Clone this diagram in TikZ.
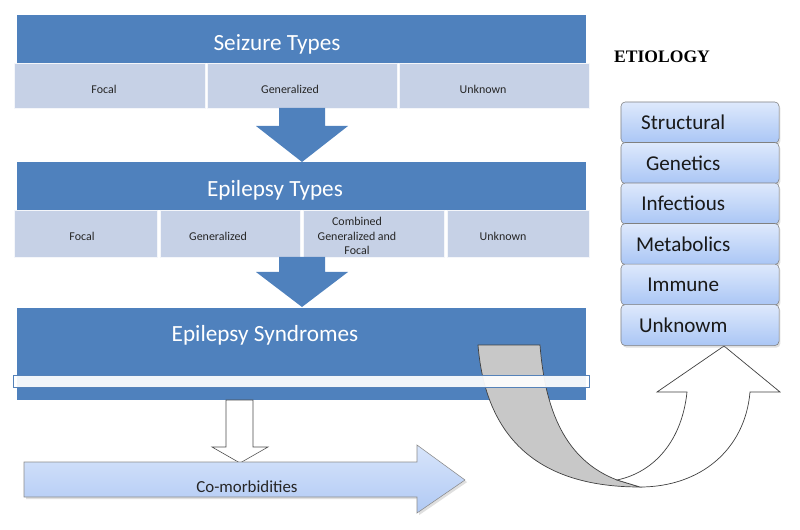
\documentclass[tikz,border=0pt]{standalone}
\usepackage{fontspec}
\setmainfont{Carlito}
\newfontfamily\etiofont{Liberation Serif}
\usetikzlibrary{positioning,shadows}
\definecolor{hdrblue}{RGB}{79,129,189}
\definecolor{cellblue}{RGB}{198,209,230}
\definecolor{boxtop}{RGB}{222,233,252}
\definecolor{boxbot}{RGB}{170,198,245}
\definecolor{comtop}{RGB}{216,229,251}
\definecolor{combot}{RGB}{176,201,244}
\definecolor{bandgray}{RGB}{200,200,200}
\definecolor{barline}{RGB}{85,130,185}
\tikzset{%
  header/.style    = {fill=hdrblue, draw=none},
  hdrtext/.style   = {text=white, font=\fontsize{16.5}{19}\selectfont, inner sep=0pt},
  cell/.style      = {fill=cellblue, draw=white!80!cellblue, line width=0.5pt},
  celltext/.style  = {font=\fontsize{8.5}{10.5}\selectfont, text=black!85, align=center, inner sep=0pt},
  bluearrow/.style = {fill=hdrblue, draw=none},
  etiobox/.style   = {draw=black!50, rounded corners=3pt, top color=boxtop, bottom color=boxbot,
    minimum width=3.95cm, minimum height=1.025cm,
    drop shadow={opacity=0.25, shadow xshift=1pt, shadow yshift=-1.5pt}},
  etiotext/.style  = {font=\fontsize{15}{18}\selectfont, text=black!90, xshift=-0.42cm},
  comorb/.style    = {draw=black!45, top color=comtop, bottom color=combot,
    drop shadow={opacity=0.25, shadow xshift=1.5pt, shadow yshift=-1.5pt}},
  curvearrow/.style = {draw=black!75, line width=0.5pt}
}

\begin{document}
\begin{tikzpicture}[x=0.025cm, y=-0.025cm, node distance=1.0125cm]
  \useasboundingbox (0,0) rectangle (800,530);

  % seizure types
  \fill[header] (17,15) rectangle (586,63);
  \draw node at (277,44) [hdrtext] (seizure) {Seizure Types};
  \foreach \a/\b in {14/205, 207/397, 399/589}
    \draw[cell] (\a,63) rectangle (\b,108);
  \draw node at (104,89) [celltext] (sfocal) {Focal};
  \draw node at (290,89) [celltext] (sgen) {Generalized};
  \draw node at (483,89) [celltext] (sunk) {Unknown};

  \fill[bluearrow] (279,108) -- (325,108) -- (325,126) -- (348,126) -- (302,162)
    -- (256,126) -- (279,126) -- cycle;

  % epilepsy types
  \fill[header] (17,162) rectangle (586,210);
  \draw node at (275,190) [hdrtext] (eptypes) {Epilepsy Types};
  \foreach \a/\b in {14/157, 160/300, 303/444, 447/589}
    \draw[cell] (\a,210) rectangle (\b,257);
  \draw node at (82,236) [celltext] (efocal) {Focal};
  \draw node at (218,236) [celltext] (egen) {Generalized};
  \draw node at (357,236) [celltext] (ecomb) {Combined\\Generalized and\\Focal};
  \draw node at (503,236) [celltext] (eunk) {Unknown};

  \fill[bluearrow] (279,257) -- (325,257) -- (325,272) -- (348,272) -- (302,307)
    -- (256,272) -- (279,272) -- cycle;

  % epilepsy syndromes
  \fill[header] (17,308) rectangle (586,400);
  \draw node at (265,335) [hdrtext] (syndromes) {Epilepsy Syndromes};

  % back of the curved arrow
  \draw[curvearrow, fill=bandgray] (478,345) -- (540,345)
    .. controls (545,410) and (565,460) .. (617,480)
    -- (640,487)
    .. controls (530,487) and (485,430) .. (478,345) -- cycle;
  \draw[draw=barline, fill=white, fill opacity=0.92] (13,375) rectangle (589,387);
  % front of the curved arrow
  \draw[curvearrow, fill=white] (617,480)
    .. controls (655,472) and (682,440) .. (687,392)
    -- (657,392) -- (724,346) -- (780,392) -- (750,392)
    .. controls (745,450) and (700,487) .. (640,487) -- cycle;

  % co-morbidities
  \draw[draw=black!70, fill=white] (226,400) -- (253,400) -- (253,447) -- (268,447)
    -- (240,463) -- (212,447) -- (226,447) -- cycle;
  \draw[comorb] (24,462) -- (417,462) -- (417,445) -- (465,480) -- (417,513)
    -- (417,497) -- (24,497) -- cycle;
  \draw node at (247,487) [font=\fontsize{12}{14}\selectfont, text=black!85] (comorbid) {Co-morbidities};

  % etiology
  \draw node at (662,57) [font=\etiofont\bfseries\fontsize{12.5}{15}\selectfont] (etiology) {ETIOLOGY};
  \draw node at (700,122.5) [etiobox, label={[etiotext]center:Structural}] (struct) {};
  \draw node [etiobox, below of=struct, label={[etiotext]center:Genetics}] (genet) {};
  \draw node [etiobox, below of=genet, label={[etiotext]center:Infectious}] (infect) {};
  \draw node [etiobox, below of=infect, label={[etiotext]center:Metabolics}] (metab) {};
  \draw node [etiobox, below of=metab, label={[etiotext]center:Immune}] (immune) {};
  \draw node [etiobox, below of=immune, label={[etiotext]center:Unknowm}] (eunknown) {};

\end{tikzpicture}
\end{document}
